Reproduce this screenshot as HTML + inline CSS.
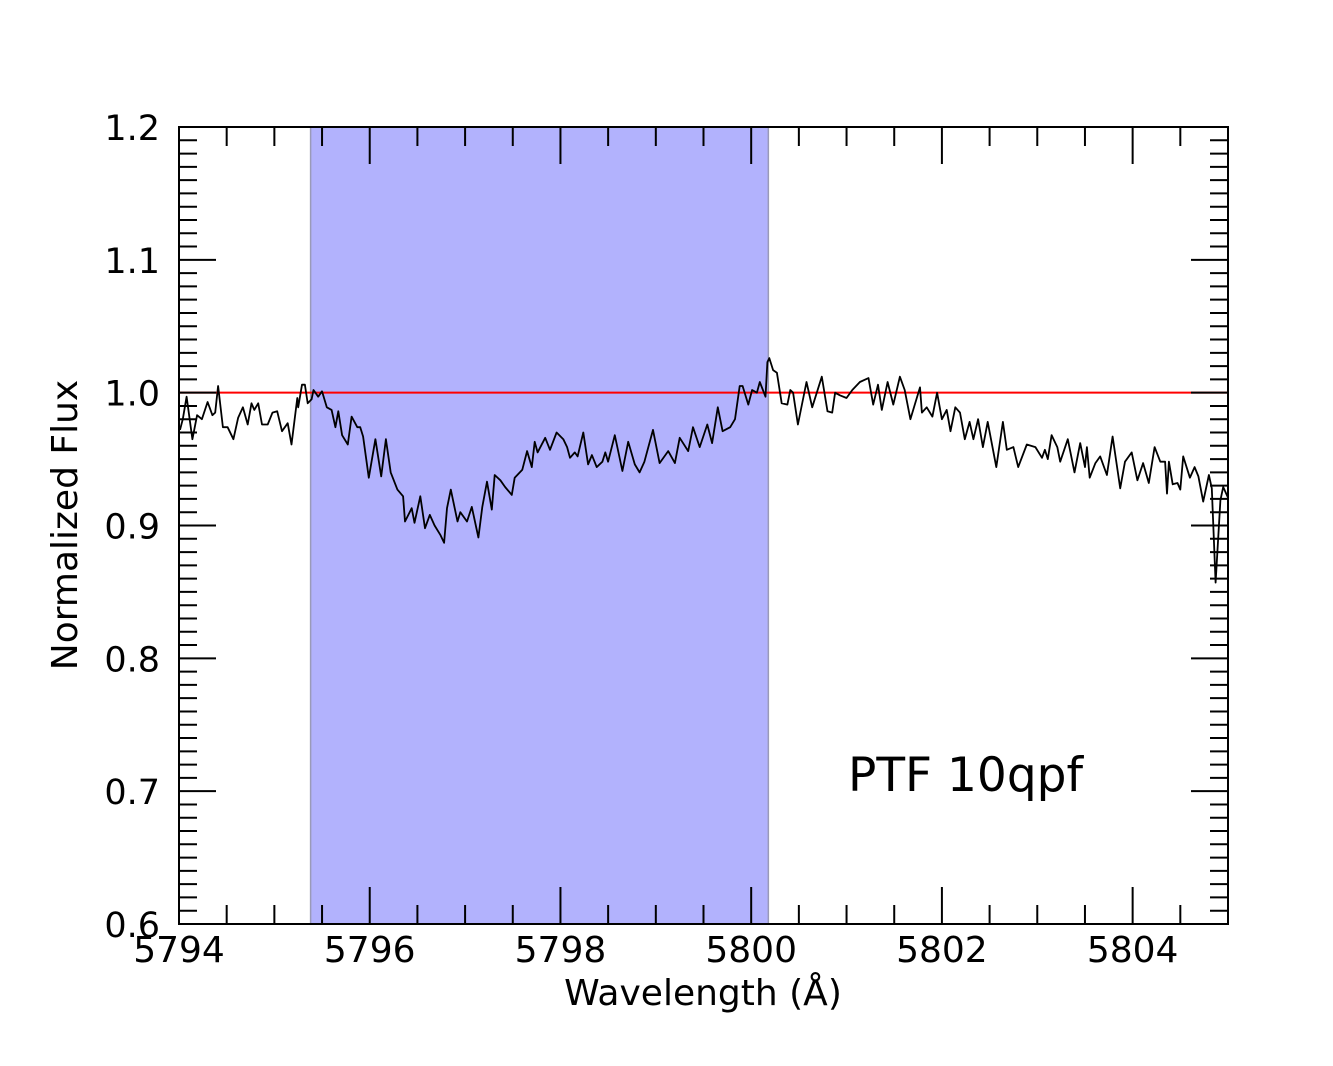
<!DOCTYPE html>
<html><head><meta charset="utf-8"><style>
html,body{margin:0;padding:0;background:#fff;}
svg{display:block;font-family:"DejaVu Sans","Liberation Sans",sans-serif;}
</style></head><body>
<svg id="chart" width="1333" height="1066" viewBox="0 0 1333 1066" xmlns="http://www.w3.org/2000/svg">
<rect x="0" y="0" width="1333" height="1066" fill="#fff"/>
<g id="plot"></g>
<text x="703" y="1005" font-size="36" text-anchor="middle">Wavelength (Å)</text>
<text transform="translate(77,525) rotate(-90)" font-size="36" text-anchor="middle">Normalized Flux</text>
<text x="848" y="791" font-size="47">PTF 10qpf</text>
</svg>
<script>
const wavelengths = [5794.01,5794.04,5794.08,5794.14,5794.19,5794.24,5794.30,5794.35,5794.38,5794.41,5794.46,5794.51,5794.57,5794.62,5794.67,5794.72,5794.76,5794.79,5794.83,5794.87,5794.93,5794.98,5795.03,5795.08,5795.14,5795.18,5795.24,5795.25,5795.29,5795.32,5795.35,5795.39,5795.41,5795.46,5795.50,5795.55,5795.60,5795.64,5795.67,5795.71,5795.77,5795.81,5795.87,5795.90,5795.93,5795.99,5796.06,5796.12,5796.17,5796.22,5796.29,5796.35,5796.37,5796.44,5796.47,5796.53,5796.58,5796.63,5796.68,5796.74,5796.78,5796.81,5796.85,5796.92,5796.95,5797.02,5797.07,5797.14,5797.18,5797.23,5797.28,5797.31,5797.37,5797.42,5797.49,5797.52,5797.60,5797.65,5797.70,5797.73,5797.76,5797.84,5797.89,5797.96,5798.03,5798.07,5798.10,5798.15,5798.18,5798.24,5798.29,5798.33,5798.38,5798.44,5798.47,5798.50,5798.57,5798.65,5798.71,5798.78,5798.83,5798.88,5798.97,5799.04,5799.13,5799.20,5799.25,5799.34,5799.39,5799.46,5799.54,5799.59,5799.65,5799.70,5799.78,5799.83,5799.88,5799.91,5799.97,5800.01,5800.06,5800.09,5800.15,5800.17,5800.19,5800.23,5800.27,5800.32,5800.38,5800.41,5800.44,5800.49,5800.58,5800.64,5800.74,5800.80,5800.85,5800.88,5800.93,5801.00,5801.06,5801.14,5801.23,5801.28,5801.33,5801.37,5801.43,5801.49,5801.56,5801.61,5801.67,5801.72,5801.77,5801.79,5801.84,5801.90,5801.95,5802.00,5802.05,5802.09,5802.14,5802.19,5802.24,5802.29,5802.33,5802.38,5802.43,5802.48,5802.57,5802.64,5802.68,5802.75,5802.80,5802.89,5802.98,5803.05,5803.08,5803.11,5803.15,5803.21,5803.24,5803.32,5803.39,5803.45,5803.50,5803.52,5803.55,5803.61,5803.66,5803.73,5803.79,5803.87,5803.92,5803.99,5804.05,5804.11,5804.17,5804.23,5804.29,5804.34,5804.36,5804.38,5804.42,5804.47,5804.50,5804.53,5804.60,5804.65,5804.69,5804.74,5804.80,5804.83,5804.87,5804.92,5804.95,5805.00];
const flux = [0.972,0.980,0.997,0.965,0.983,0.980,0.993,0.983,0.985,1.005,0.974,0.974,0.965,0.981,0.989,0.976,0.992,0.987,0.992,0.976,0.976,0.985,0.986,0.971,0.977,0.961,0.996,0.989,1.006,1.006,0.992,0.995,1.002,0.997,1.001,0.989,0.987,0.974,0.986,0.968,0.961,0.982,0.974,0.974,0.967,0.936,0.965,0.937,0.965,0.940,0.927,0.922,0.903,0.913,0.902,0.922,0.898,0.908,0.900,0.893,0.887,0.913,0.927,0.903,0.910,0.903,0.914,0.891,0.914,0.933,0.912,0.938,0.934,0.929,0.923,0.936,0.942,0.956,0.944,0.963,0.955,0.966,0.957,0.970,0.965,0.959,0.951,0.955,0.952,0.970,0.946,0.953,0.944,0.948,0.955,0.948,0.968,0.941,0.963,0.946,0.940,0.948,0.972,0.947,0.956,0.947,0.966,0.956,0.974,0.959,0.976,0.962,0.989,0.971,0.974,0.980,1.005,1.005,0.991,1.002,1.000,1.008,0.997,1.023,1.026,1.017,1.015,0.992,0.991,1.002,1.000,0.976,1.008,0.989,1.012,0.986,0.985,1.000,0.998,0.996,1.002,1.008,1.011,0.991,1.006,0.987,1.008,0.991,1.012,1.002,0.980,0.992,1.004,0.985,0.989,0.982,1.000,0.980,0.987,0.971,0.989,0.985,0.965,0.978,0.965,0.980,0.959,0.978,0.944,0.978,0.957,0.959,0.944,0.961,0.959,0.951,0.957,0.950,0.968,0.959,0.948,0.965,0.940,0.962,0.944,0.959,0.936,0.947,0.952,0.938,0.967,0.928,0.948,0.955,0.934,0.947,0.932,0.959,0.948,0.948,0.924,0.948,0.931,0.932,0.927,0.952,0.936,0.944,0.937,0.918,0.938,0.928,0.857,0.919,0.929,0.921];
const xTickLabels = [5794,5796,5798,5800,5802,5804];
const yTickLabels = [0.6,0.7,0.8,0.9,1.0,1.1,1.2];
const bandRange = [5795.38,5800.18];
const continuumLevel = [1.0];
const xDomain = [5794,5805];
const yDomain = [0.6,1.2];

const L=179,R=1228,T=127,B=924;
const NS='http://www.w3.org/2000/svg';
const sx=v=>L+(v-xDomain[0])/(xDomain[1]-xDomain[0])*(R-L);
const sy=v=>B-(v-yDomain[0])/(yDomain[1]-yDomain[0])*(B-T);
const plot=document.getElementById('plot');
function mk(tag,attrs,parent){const e=document.createElementNS(NS,tag);for(const k in attrs)e.setAttribute(k,attrs[k]);(parent||plot).appendChild(e);return e;}

const band=mk('rect',{x:sx(bandRange[0]),y:T,width:sx(bandRange[1])-sx(bandRange[0]),height:B-T,fill:'#b2b2fd',stroke:'#9a9ab8','stroke-width':1.5});



const cont=mk('line',{x1:L,x2:R,y1:sy(continuumLevel[0]),y2:sy(continuumLevel[0]),stroke:'#ff0000','stroke-width':2});



let d='';
wavelengths.forEach((w,i)=>{d+=(i?'L':'M')+sx(w).toFixed(1)+','+sy(flux[i]).toFixed(1);});
const spec=mk('path',{d:d,fill:'none',stroke:'#000','stroke-width':1.8,'stroke-linejoin':'round'});



const ticks=mk('g',{stroke:'#000','stroke-width':2});


for(let k=0;k<=22;k++){
  const w=xDomain[0]+k*0.5, x=sx(w), len=(k%4===0)?37:19;
  mk('line',{x1:x,x2:x,y1:B,y2:B-len},ticks);
  mk('line',{x1:x,x2:x,y1:T,y2:T+len},ticks);
}
for(let k=0;k<=60;k++){
  const v=yDomain[0]+k*0.01, y=sy(v), len=(k%10===0)?37:18;
  mk('line',{x1:L,x2:L+len,y1:y,y2:y},ticks);
  mk('line',{x1:R,x2:R-len,y1:y,y2:y},ticks);
}
const frame=mk('rect',{x:L,y:T,width:R-L,height:B-T,fill:'none',stroke:'#000','stroke-width':2});



xTickLabels.forEach(v=>{
  const t=mk('text',{x:sx(v),y:962,'font-size':36,'text-anchor':'middle'});
  t.textContent=String(v);
  
  
});
yTickLabels.forEach(v=>{
  const t=mk('text',{x:160,y:sy(v)+13,'font-size':35,'text-anchor':'end'});
  t.textContent=v.toFixed(1);
  
  
});
</script>
</body></html>
